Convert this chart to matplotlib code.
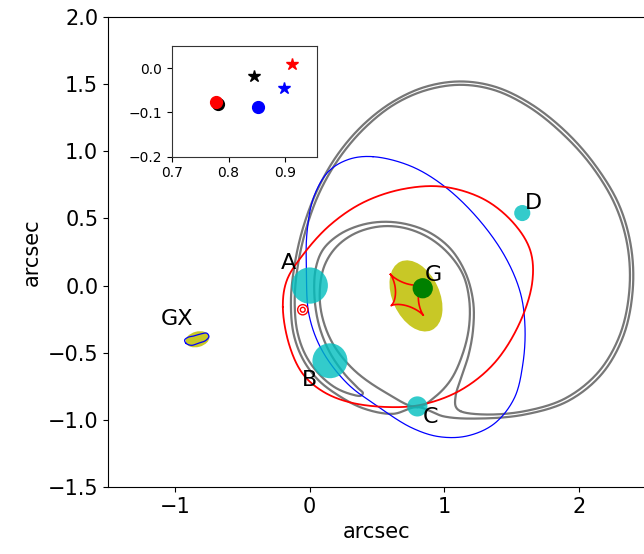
import numpy as np
import matplotlib
matplotlib.use('Agg')
import matplotlib.pyplot as plt
from matplotlib.patches import Circle, Ellipse

# ---------------- data (arcsec) ----------------
img_names = ['A', 'B', 'C', 'D']
img_x = [0.0, 0.15, 0.80, 1.58]
img_y = [0.0, -0.56, -0.90, 0.54]
img_r = [0.135, 0.13, 0.075, 0.06]
lab_x = [-0.16, 0.0, 0.90, 1.66]
lab_y = [0.17, -0.70, -0.98, 0.615]

gal_x, gal_y, gal_r = 0.84, -0.02, 0.07
gal_lab = (0.92, 0.08)
light_c = (0.79, -0.077)
light_w, light_h, light_ang = 0.56, 0.35, -65.5

cusp_x = [0.625, 0.815, 0.870, 0.580]
cusp_y = [0.101, -0.005, -0.204, -0.167]

gx_x, gx_y = -0.835, -0.40
gx_w, gx_h, gx_ang = 0.18, 0.115, 15
gx_lab = (-0.99, -0.25)
small_c = (-0.052, -0.18)
small_r = [0.038, 0.018]

red_x = [-0.20, -0.15, -0.05, 0.10, 0.30, 0.595, 0.84, 1.12, 1.37, 1.56, 1.655,
         1.64, 1.52, 1.30, 1.00, 0.70, 0.40, 0.15, -0.05, -0.17]
red_y = [-0.16, -0.45, -0.66, -0.79, -0.87, -0.905, -0.885, -0.78, -0.58, -0.28, 0.03,
         0.26, 0.46, 0.64, 0.735, 0.72, 0.62, 0.45, 0.23, 0.04]

blue_x = [0.47, 0.75, 1.00, 1.25, 1.45, 1.565, 1.60, 1.585, 1.52, 1.37, 1.17,
          0.96, 0.76, 0.52, 0.28, 0.09, -0.005, -0.025, -0.02, 0.03, 0.14, 0.29]
blue_y = [0.96, 0.89, 0.74, 0.50, 0.22, -0.05, -0.30, -0.58, -0.84, -1.03, -1.12,
          -1.125, -1.06, -0.91, -0.73, -0.48, -0.22, 0.10, 0.40, 0.66, 0.85, 0.94]

l1o_x = [0.80, 1.0, 1.264, 1.60, 1.92, 2.17, 2.33, 2.40, 2.39, 2.30, 2.12, 1.90,
         1.64, 1.38, 1.12, 0.86, 0.62, 0.40, 0.21, 0.06, -0.05, -0.115, -0.14,
         -0.12, -0.05, 0.06, 0.20, 0.40, 0.62]
l1o_y = [-0.905, -0.975, -0.99, -0.96, -0.86, -0.66, -0.38, -0.05, 0.28, 0.60, 0.90, 1.15,
         1.355, 1.48, 1.52, 1.48, 1.37, 1.20, 0.98, 0.72, 0.43, 0.14, -0.12,
         -0.36, -0.55, -0.70, -0.81, -0.915, -0.955]

l2_x = [1.12, 1.30, 1.60, 1.90, 2.145, 2.305, 2.375, 2.365, 2.275, 2.10, 1.88, 1.63,
        1.375, 1.12, 0.865, 0.63, 0.415, 0.23, 0.08, -0.025, -0.09, -0.112, -0.093,
        -0.03, 0.07, 0.19, 0.31, 0.38, 0.395, 0.36, 0.26, 0.15, 0.07, 0.035, 0.045,
        0.10, 0.22, 0.38, 0.55, 0.73, 0.90, 1.05, 1.16, 1.215, 1.215, 1.18, 1.12, 1.085, 1.085]
l2_y = [-0.935, -0.96, -0.935, -0.84, -0.645, -0.37, -0.05, 0.28, 0.59, 0.885, 1.13, 1.33,
        1.455, 1.495, 1.455, 1.35, 1.18, 0.965, 0.71, 0.43, 0.14, -0.11,
        -0.34, -0.52, -0.66, -0.76, -0.81, -0.82, -0.80, -0.765, -0.66, -0.50, -0.30, -0.08, 0.13,
        0.27, 0.38, 0.45, 0.475, 0.455, 0.39, 0.27, 0.09, -0.12, -0.32, -0.52, -0.70, -0.82, -0.90]

l1m_x = [0.80, 0.93, 1.05, 1.14, 1.185, 1.185, 1.14, 1.03, 0.88, 0.70, 0.52, 0.34, 0.20,
         0.11, 0.075, 0.09, 0.17, 0.33, 0.57]
l1m_y = [-0.905, -0.83, -0.70, -0.50, -0.30, -0.10, 0.08, 0.24, 0.36, 0.43, 0.44, 0.39,
         0.29, 0.15, -0.03, -0.22, -0.43, -0.63, -0.80]

gxb_x = [-0.92, -0.88, -0.83, -0.775, -0.75, -0.765, -0.81, -0.86, -0.905, -0.93]
gxb_y = [-0.43, -0.445, -0.43, -0.41, -0.38, -0.355, -0.36, -0.375, -0.385, -0.405]

# inset data
ins_circ_x = [0.781, 0.778, 0.851]
ins_circ_y = [-0.081, -0.077, -0.088]
ins_circ_c = ['black', 'red', 'blue']
ins_star_x = [0.844, 0.911, 0.898]
ins_star_y = [-0.017, 0.010, -0.045]
ins_star_c = ['black', 'red', 'blue']


def smooth_closed(x, y, n=30, alpha=0.5):
    """Centripetal Catmull-Rom through the traced points (closed curve)."""
    P = np.column_stack([x, y]).astype(float)
    N = len(P)
    out = []
    for i in range(N):
        p0, p1, p2, p3 = P[(i - 1) % N], P[i], P[(i + 1) % N], P[(i + 2) % N]
        t0 = 0.0
        t1 = t0 + np.linalg.norm(p1 - p0) ** alpha + 1e-9
        t2 = t1 + np.linalg.norm(p2 - p1) ** alpha + 1e-9
        t3 = t2 + np.linalg.norm(p3 - p2) ** alpha + 1e-9
        t = np.linspace(t1, t2, n, endpoint=False)[:, None]
        A1 = (t1 - t) / (t1 - t0) * p0 + (t - t0) / (t1 - t0) * p1
        A2 = (t2 - t) / (t2 - t1) * p1 + (t - t1) / (t2 - t1) * p2
        A3 = (t3 - t) / (t3 - t2) * p2 + (t - t2) / (t3 - t2) * p3
        B1 = (t2 - t) / (t2 - t0) * A1 + (t - t0) / (t2 - t0) * A2
        B2 = (t3 - t) / (t3 - t1) * A2 + (t - t1) / (t3 - t1) * A3
        C = (t2 - t) / (t2 - t1) * B1 + (t - t1) / (t2 - t1) * B2
        out.append(C)
    out.append(P[:1])
    Q = np.vstack(out)
    return Q[:, 0], Q[:, 1]


fig = plt.figure(figsize=(6.44, 5.54), dpi=100)
ax = fig.add_axes([108 / 644, 1 - 487 / 554, 538 / 644, 470 / 554])
ax.set_xlim(-1.5, 2.5)
ax.set_ylim(-1.5, 2.0)

gray = '#777777'
for xs, ys in [(l1o_x, l1o_y), (l2_x, l2_y), (l1m_x, l1m_y)]:
    sx, sy = smooth_closed(xs, ys)
    ax.plot(sx, sy, color=gray, lw=1.6, zorder=2, solid_capstyle='round')

bx, by = smooth_closed(blue_x, blue_y)
ax.plot(bx, by, color='blue', lw=0.9, zorder=3)
rx, ry = smooth_closed(red_x, red_y)
ax.plot(rx, ry, color='red', lw=1.3, zorder=3)

for r in small_r:
    ax.add_patch(Circle(small_c, r, fill=False, ec='red', lw=1.0, zorder=3))

ax.add_patch(Ellipse(light_c, light_w, light_h, angle=light_ang, color='y', alpha=0.85,
                     lw=0, zorder=4))
# caustic (astroid through the 4 cusps)
cx = np.array(cusp_x); cy = np.array(cusp_y)
c0 = np.array([cx.mean(), cy.mean()])
h1 = np.array([cx[0] - cx[2], cy[0] - cy[2]]) / 2
h2 = np.array([cx[1] - cx[3], cy[1] - cy[3]]) / 2
tt = np.linspace(0, 2 * np.pi, 400)
ax.plot(c0[0] + np.cos(tt) ** 3 * h1[0] + np.sin(tt) ** 3 * h2[0],
        c0[1] + np.cos(tt) ** 3 * h1[1] + np.sin(tt) ** 3 * h2[1],
        color='red', lw=1.2, zorder=5)
ax.add_patch(Circle((gal_x, gal_y), gal_r, color='green', zorder=6))

ax.add_patch(Ellipse((gx_x, gx_y), gx_w, gx_h, angle=gx_ang, color='y', alpha=0.85, lw=0, zorder=4))
gbx, gby = smooth_closed(gxb_x, gxb_y)
ax.plot(gbx, gby, color='blue', lw=0.9, zorder=5)

for xx, yy, rr in zip(img_x, img_y, img_r):
    ax.add_patch(Circle((xx, yy), rr, color='c', alpha=0.8, lw=0, zorder=7))

fs = 16
for nm, lx, ly in zip(img_names, lab_x, lab_y):
    ax.text(lx, ly, nm, fontsize=fs, ha='center', va='center', zorder=8)
ax.text(gal_lab[0], gal_lab[1], 'G', fontsize=fs, ha='center', va='center', zorder=8)
ax.text(gx_lab[0], gx_lab[1], 'GX', fontsize=fs, ha='center', va='center', zorder=8)

ax.set_xticks([-1, 0, 1, 2])
ax.set_yticks([-1.5, -1.0, -0.5, 0.0, 0.5, 1.0, 1.5, 2.0])
ax.tick_params(labelsize=15)
ax.set_xlabel('arcsec', fontsize=15)
ax.set_ylabel('arcsec', fontsize=15)

# inset
ins = fig.add_axes([171.7 / 644, 1 - 156.7 / 554, 145 / 644, 110.7 / 554])
ins.set_xlim(0.7, 0.955)
ins.set_ylim(-0.2, 0.05)
for xx, yy, cc in zip(ins_circ_x, ins_circ_y, ins_circ_c):
    ins.plot(xx, yy, 'o', color=cc, ms=8.5)
for xx, yy, cc in zip(ins_star_x, ins_star_y, ins_star_c):
    ins.plot(xx, yy, '*', color=cc, ms=9)
ins.set_xticks([0.7, 0.8, 0.9])
ins.set_yticks([-0.2, -0.1, 0.0])
ins.tick_params(labelsize=10)
for s in ins.spines.values():
    s.set_color('#333333')

fig.savefig('out.png', dpi=100)
